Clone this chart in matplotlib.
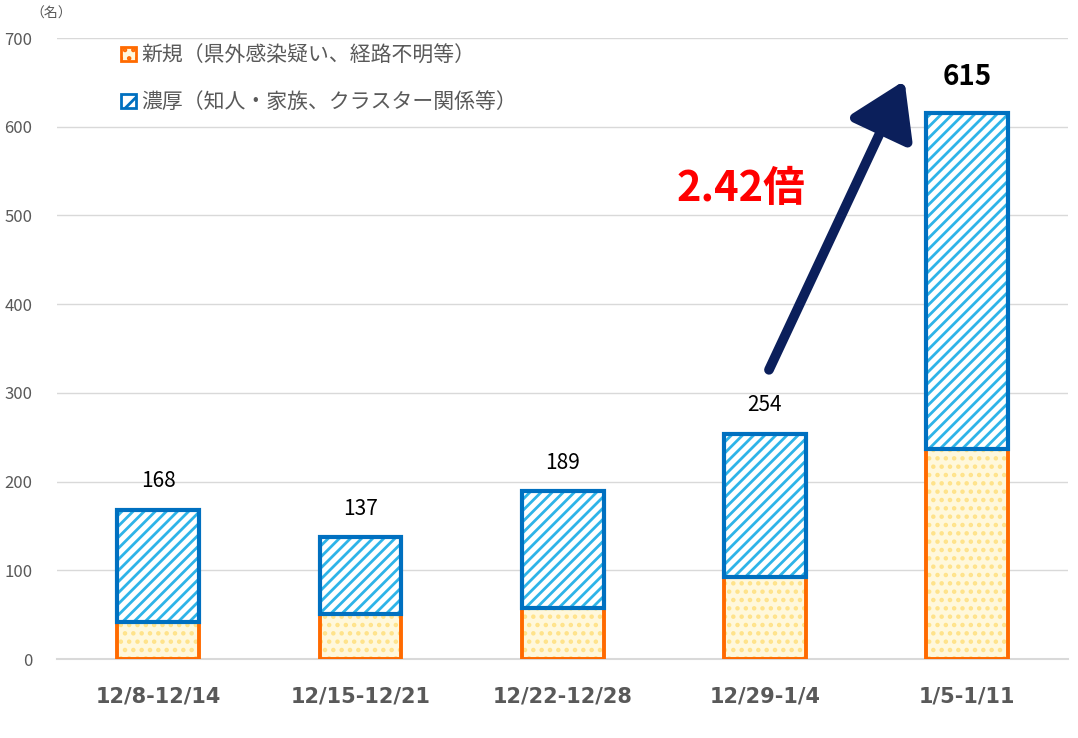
import numpy as np
import matplotlib
matplotlib.use("Agg")
import matplotlib.pyplot as plt
from matplotlib.patches import Patch

plt.rcParams['font.family'] = ['Noto Sans CJK JP', 'DejaVu Sans']
plt.rcParams['hatch.linewidth'] = 2.0

weeks = ['12/8-12/14', '12/15-12/21', '12/22-12/28', '12/29-1/4', '1/5-1/11']
new_cases = [42, 51, 57, 92, 237]
totals = [168, 137, 189, 254, 615]
close_cases = [t - n for t, n in zip(totals, new_cases)]
labels = ['新規（県外感染疑い、経路不明等）', '濃厚（知人・家族、クラスター関係等）']

ORANGE = '#FF6A00'
BLUE = '#0070C0'
STRIPE = '#2EB4E8'
DOTS = '#FFE38A'
DOTFACE = '#FFF8DC'
GRAY = '#595959'

fig = plt.figure(figsize=(10.78, 7.38), dpi=100)
ax = fig.add_axes([0.053, 0.107, 0.938, 0.8415])

x = np.arange(len(weeks))
w = 0.405

# bottom (new) : dotted fill, then orange outline
ax.bar(x, new_cases, w, color=DOTFACE, edgecolor=DOTS, hatch='..', linewidth=0, zorder=2)
ax.bar(x, new_cases, w, color='none', edgecolor=ORANGE, linewidth=2.8, zorder=3)
# top (close contacts) : stripes, then blue outline
ax.bar(x, close_cases, w, bottom=new_cases, color='white', edgecolor=STRIPE,
       hatch='///', linewidth=0, zorder=2)
ax.bar(x, close_cases, w, bottom=new_cases, color='none', edgecolor=BLUE,
       linewidth=3, zorder=4)

for i, t in enumerate(totals):
    if i == len(totals) - 1:
        ax.text(x[i], t + 25, str(t), ha='center', va='bottom', fontsize=20,
                fontweight='bold', color='black')
    else:
        ax.text(x[i], t + 20, str(t), ha='center', va='bottom', fontsize=15,
                color='black')

ax.set_xlim(-0.5, len(weeks) - 0.5)
ax.set_ylim(0, 700)
ax.set_yticks(range(0, 701, 100))
ax.yaxis.grid(True, color='#D9D9D9', linewidth=1)
ax.set_axisbelow(True)
for s in ['top', 'right', 'left']:
    ax.spines[s].set_visible(False)
ax.spines['bottom'].set_color('#D9D9D9')
ax.spines['bottom'].set_linewidth(1.5)
ax.tick_params(axis='both', length=0)
ax.tick_params(axis='y', labelsize=12, labelcolor=GRAY, pad=18)
ax.set_xticks(x)
ax.set_xticklabels(weeks, fontsize=15, fontweight='bold', color=GRAY,
                   family=['Liberation Sans Narrow', 'DejaVu Sans'])
ax.tick_params(axis='x', pad=20)

fig.text(0.028, 0.982, '（名）', fontsize=10, color=GRAY, va='center')

# growth arrow
ax.annotate('', xy=(3.69, 652), xytext=(3.02, 326),
            arrowprops=dict(arrowstyle='-|>,head_width=0.7,head_length=1.1',
                            lw=7, color='#0B1F5B', mutation_scale=30,
                            shrinkA=0, shrinkB=0))
ax.text(2.88, 530, '2.42倍', fontsize=30, fontweight='bold', color='#FF0000',
        ha='center', va='center')

handles = [Patch(facecolor=DOTFACE, edgecolor=ORANGE, hatch='..', linewidth=2),
           Patch(facecolor='white', edgecolor=BLUE, hatch='//', linewidth=2)]
ax.legend(handles, labels, loc='upper left', bbox_to_anchor=(0.045, 1.02),
          frameon=False, fontsize=15, labelcolor=GRAY, handlelength=0.7,
          handleheight=0.7, handletextpad=0.25, labelspacing=1.2)

fig.savefig('out.png', dpi=100)
